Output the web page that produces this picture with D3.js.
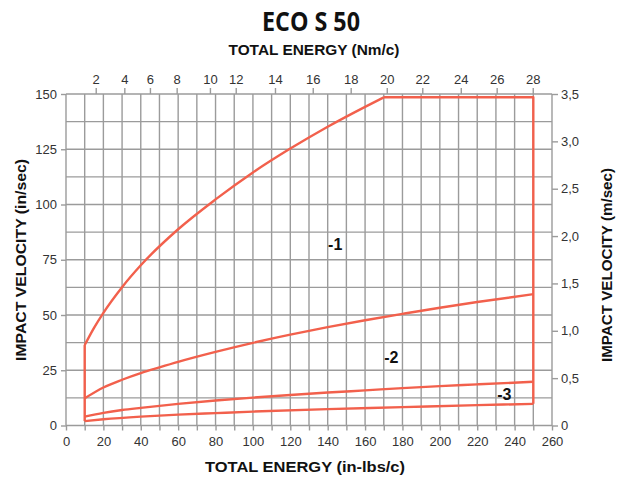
<!DOCTYPE html>
<html><head><meta charset="utf-8">
<script src="https://cdn.jsdelivr.net/npm/d3@7"></script>
<style>body{margin:0;background:#fff} text{font-family:'Liberation Sans',Arial,sans-serif}</style>
</head><body><svg id="c" width="624" height="479"></svg>
<script>
// ---- data ----
const energyTicks = [0,20,40,60,80,100,120,140,160,180,200,220,240,260];
const velocityTicks = [0,25,50,75,100,125,150];
const msTicks = [0,0.5,1.0,1.5,2.0,2.5,3.0,3.5];
const nmTicks = [2,4,6,8,10,12,14,16,18,20,22,24,26,28];
const nmTickInLbs = [15.9,31.2,44.9,59.2,77.0,90.8,111.8,132.0,152.3,171.6,190.6,211.2,230.4,249.7];
const curve1 = [[10,36.4],[15,44.2],[20,51],[30,62.6],[40,72.5],[60,88.8],[80,102.3],[100,114.5],[120,125.3],[140,135.2],[160,144.2],[170,148.5]];
const curve2 = [[10,12.3],[20,17.2],[30,20.7],[40,23.7],[50,26.3],[60,28.8],[80,33.3],[100,37.4],[120,41.1],[140,44.5],[160,47.6],[180,50.5],[200,53.3],[220,55.9],[250,59.4]];
const curve3 = [[10,4],[20,5.7],[30,7],[40,8],[60,9.8],[80,11.3],[100,12.6],[120,13.8],[140,14.9],[160,15.9],[180,16.9],[200,17.8],[220,18.6],[250,19.8]];
const curve4 = [[10,2],[20,2.8],[40,4],[60,4.9],[80,5.6],[100,6.3],[140,7.4],[180,8.3],[220,9.2],[250,9.8]];
const maxEnergy = 250;
const maxVelocity = 148.5;
const curveLabels = [["-1",144,82],["-2",174,30.7],["-3",234.5,14]];

// ---- layout ----
const svg = d3.select("#c");
const x = d3.scaleLinear().domain([0,260]).range([66,552]);
const y = d3.scaleLinear().domain([0,150]).range([425.5,94]);
const yR = d3.scaleLinear().domain([0,3.5]).range([425.5,94]);
const xTop = d3.scaleLinear().domain(nmTicks).range(nmTickInLbs.map(x));
const gridCol = "#9b9b9b", red = "#f2604c", txt = "#333";

// grid
const g = svg.append("g").attr("stroke", gridCol).attr("stroke-width", 1.4);
d3.range(0,261,10).forEach(v => g.append("line").attr("x1", x(v)).attr("x2", x(v)).attr("y1", y(0)).attr("y2", y(150)));
d3.range(0,150.1,12.5).forEach(v => g.append("line").attr("x1", x(0)).attr("x2", x(260)).attr("y1", y(v)).attr("y2", y(v)));

function styleAxis(sel){
  sel.select(".domain").remove();
  sel.selectAll(".tick line").attr("stroke", gridCol).attr("stroke-width", 1.4);
  sel.selectAll(".tick text").attr("fill", txt).style("font-size","13px").style("font-family","'Liberation Sans',Arial,sans-serif");
}
svg.append("g").attr("transform",`translate(0,${y(0)})`)
  .call(d3.axisBottom(x).tickValues(d3.range(0,261,10)).tickSize(5).tickPadding(6).tickFormat(d => d%20===0 ? d : ""))
  .call(styleAxis);
svg.append("g").attr("transform",`translate(${x(0)},0)`)
  .call(d3.axisLeft(y).tickValues(velocityTicks).tickSize(5).tickPadding(4))
  .call(styleAxis);
svg.append("g").attr("transform",`translate(${x(260)},0)`)
  .call(d3.axisRight(yR).tickValues(msTicks).tickSize(6).tickPadding(3).tickFormat(d => d===0 ? "0" : d3.format(".1f")(d).replace(".",",")))
  .call(styleAxis);
svg.append("g").attr("transform",`translate(0,${y(150)})`)
  .call(d3.axisTop(xTop).tickValues(nmTicks).tickSize(6).tickPadding(4))
  .call(styleAxis);

// curves
const line = d3.line().x(d => x(d[0])).y(d => y(d[1])).curve(d3.curveMonotoneX);
const cg = svg.append("g").attr("fill","none").attr("stroke",red).attr("stroke-width",2.4).attr("stroke-linejoin","round");
[curve1,curve2,curve3,curve4].forEach(c => cg.append("path").attr("d", line(c)));
const lin = d3.line().x(d => x(d[0])).y(d => y(d[1]));
// envelope
cg.append("path").attr("d", lin([[curve4[0][0],curve4[0][1]],[curve1[0][0],curve1[0][1]]]));
cg.append("path").attr("d", lin([curve1[curve1.length-1],[maxEnergy,maxVelocity],[maxEnergy,curve4[curve4.length-1][1]]]));

// curve labels
curveLabels.forEach(([t,ex,ev]) => svg.append("text").attr("x", x(ex)).attr("y", y(ev)).attr("text-anchor","middle").attr("dominant-baseline","central")
  .style("font-weight","bold").style("font-size","16px").attr("fill","#111").text(t));

// titles
svg.append("text").attr("x",311).attr("y",31).attr("text-anchor","middle").style("font-family","'Open Sans',sans-serif").style("font-weight","700").style("font-size","27px").attr("fill","#111").attr("textLength",98).attr("lengthAdjust","spacingAndGlyphs").text("ECO S 50");
svg.append("text").attr("x",314).attr("y",55).attr("text-anchor","middle").style("font-weight","bold").style("font-size","15px").attr("fill","#111").attr("textLength",171).attr("lengthAdjust","spacingAndGlyphs").text("TOTAL ENERGY (Nm/c)");
svg.append("text").attr("x",305).attr("y",472).attr("text-anchor","middle").style("font-weight","bold").style("font-size","15px").attr("fill","#111").attr("textLength",200).attr("lengthAdjust","spacingAndGlyphs").text("TOTAL ENERGY (in-lbs/c)");
svg.append("text").attr("transform","translate(26,260) rotate(-90)").attr("text-anchor","middle").style("font-weight","bold").style("font-size","15px").attr("fill","#111").attr("textLength",202).attr("lengthAdjust","spacingAndGlyphs").text("IMPACT VELOCITY (in/sec)");
svg.append("text").attr("transform","translate(612,265) rotate(-90)").attr("text-anchor","middle").style("font-weight","bold").style("font-size","15px").attr("fill","#111").attr("textLength",194).attr("lengthAdjust","spacingAndGlyphs").text("IMPACT VELOCITY (m/sec)");
</script></body></html>
